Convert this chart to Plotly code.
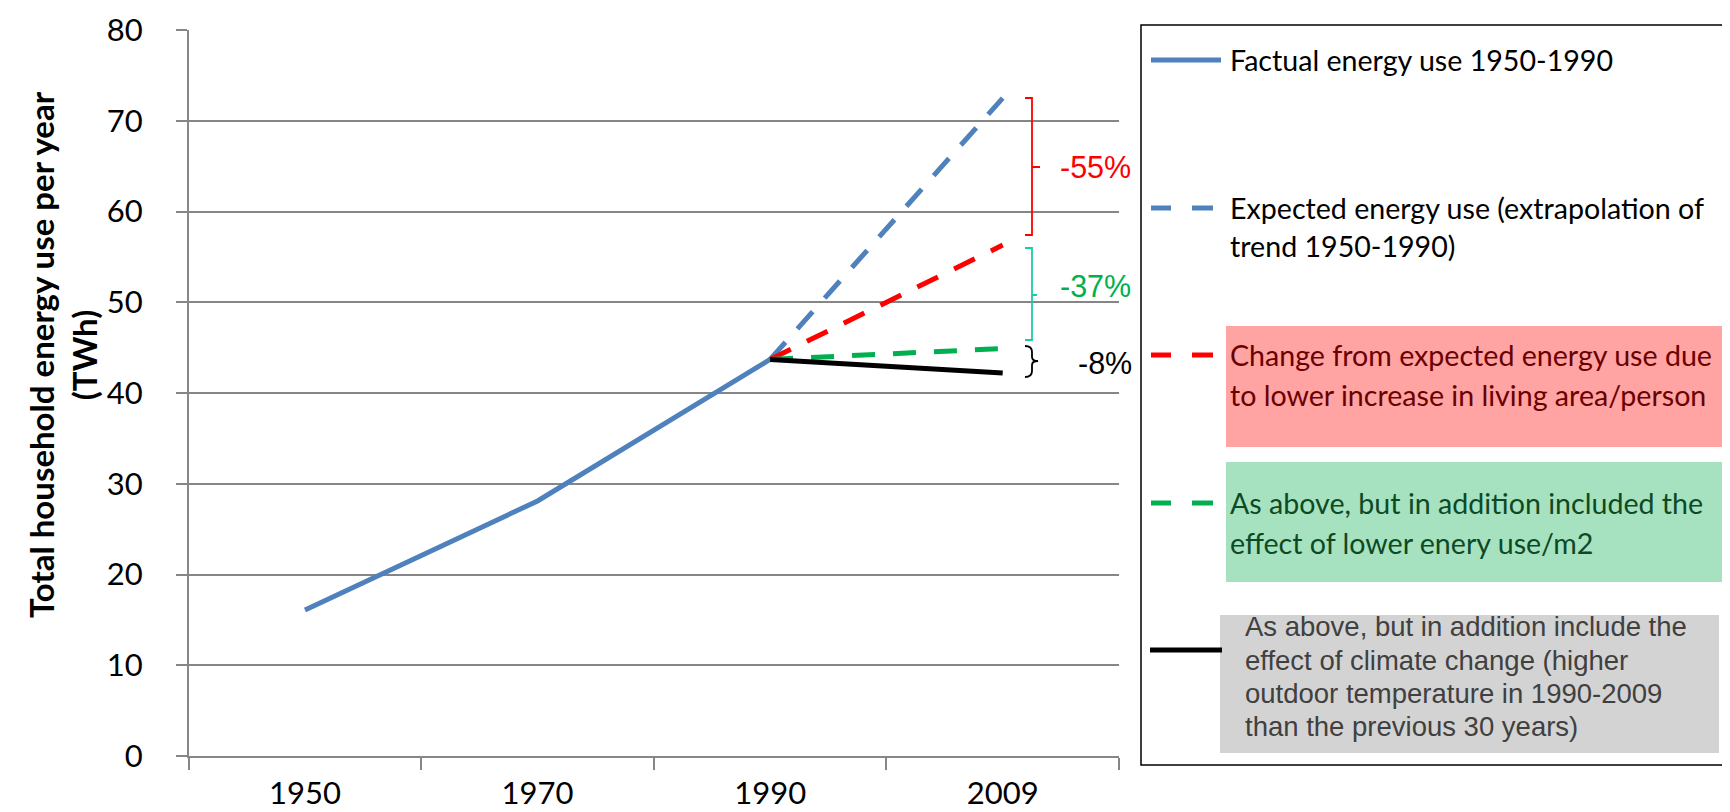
import plotly.graph_objects as go

# ---- data ----
years = ["1950", "1970", "1990", "2009"]
factual_x = ["1950", "1970", "1990"]
factual_y = [16.1, 28.1, 43.7]
proj_x = ["1990", "2009"]
expected_y = [43.7, 72.5]
living_area_y = [43.7, 56.3]
energy_m2_y = [43.7, 44.9]
climate_y = [43.7, 42.2]
y_ticks = [0, 10, 20, 30, 40, 50, 60, 70, 80]

legend_texts = [
    ["Factual energy use 1950-1990"],
    ["Expected energy use (extrapolation of", "trend 1950-1990)"],
    ["Change from expected energy use due", "to lower increase in living area/person"],
    ["As above, but in addition included the", "effect of lower enery use/m2"],
    ["As above, but in addition include the", "effect of climate change (higher",
     "outdoor temperature in 1990-2009", "than the previous 30 years)"],
]
pct_labels = ["-55%", "-37%", "-8%"]

BLUE = "#4F81BD"
RED = "#FF0000"
GREEN = "#00B050"
TEAL = "#1DCC9C"
GRID = "#868686"
W, H = 1730, 812
CAL = "Lato"
ARIAL = "Liberation Sans"
DASH = "23px,18px"
LW = 5


def px(x):
    return x / W


def py(y):
    return 1 - y / H


fig = go.Figure()
fig.add_trace(go.Scatter(x=factual_x, y=factual_y, mode="lines",
                         line=dict(color=BLUE, width=LW), showlegend=False))
fig.add_trace(go.Scatter(x=proj_x, y=expected_y, mode="lines",
                         line=dict(color=BLUE, width=LW, dash=DASH), showlegend=False))
fig.add_trace(go.Scatter(x=proj_x, y=living_area_y, mode="lines",
                         line=dict(color=RED, width=LW, dash=DASH), showlegend=False))
fig.add_trace(go.Scatter(x=proj_x, y=energy_m2_y, mode="lines",
                         line=dict(color=GREEN, width=LW, dash=DASH), showlegend=False))
fig.add_trace(go.Scatter(x=proj_x, y=climate_y, mode="lines",
                         line=dict(color="black", width=LW), showlegend=False))

shapes = []
annotations = []

# legend frame
shapes.append(dict(type="rect", xref="paper", yref="paper",
                   x0=px(1133), x1=px(1723), y0=py(17), y1=py(757),
                   line=dict(color="black", width=1.5), fillcolor="white", layer="below"))
# coloured boxes
for (x0, x1, y0, y1, col) in [(1218, 1717, 318, 439, "#FFA3A3"),
                              (1218, 1717, 454, 574, "#A6E1C0"),
                              (1212, 1711, 607, 745, "#D3D3D3")]:
    shapes.append(dict(type="rect", xref="paper", yref="paper",
                       x0=px(x0), x1=px(x1), y0=py(y0), y1=py(y1),
                       line=dict(width=0), fillcolor=col, layer="below"))


def seg(x0, x1, y, col, w=LW):
    shapes.append(dict(type="line", xref="paper", yref="paper",
                       x0=px(x0), x1=px(x1), y0=py(y), y1=py(y),
                       line=dict(color=col, width=w)))


# legend symbols
seg(1143, 1213, 52, BLUE)
seg(1143, 1163, 200, BLUE); seg(1184, 1205, 200, BLUE)
seg(1143, 1163, 347, RED); seg(1184, 1205, 347, RED)
seg(1143, 1163, 495, GREEN); seg(1184, 1205, 495, GREEN)
seg(1142, 1214, 642, "black")

# legend texts
leg_pos = [
    (1220, [52], "black", CAL, 28.6),
    (1220, [200, 238], "black", CAL, 28.6),
    (1220, [347, 387], "#6B0000", CAL, 28.6),
    (1220, [495, 535], "#0D4A24", CAL, 28.6),
    (1235, [618, 652, 685, 718], "#404040", ARIAL, 27.5),
]
for lines, (x0, ys, col, fam, size) in zip(legend_texts, leg_pos):
    for t, yy in zip(lines, ys):
        annotations.append(dict(text=t, xref="paper", yref="paper",
                                x=px(x0), y=py(yy), xanchor="left", yanchor="middle",
                                showarrow=False, font=dict(family=fam, size=size, color=col)))


def path_shape(d, col):
    shapes.append(dict(type="path", xref="paper", yref="paper", path=d,
                       line=dict(color=col, width=1.8)))


def P(x, y):
    return f"{px(x)},{py(y)}"


# brackets
path_shape(f"M{P(1017,90)} L{P(1024,90)} L{P(1024,227)} L{P(1017,227)} "
           f"M{P(1024,159)} L{P(1032,159)}", RED)
path_shape(f"M{P(1017,240)} L{P(1024,240)} L{P(1024,332)} L{P(1017,332)} "
           f"M{P(1024,287)} L{P(1029,287)}", TEAL)
path_shape(f"M{P(1017,338)} Q{P(1024,338)} {P(1024,344)} L{P(1024,349)} "
           f"Q{P(1024,353)} {P(1030,353)} Q{P(1024,353)} {P(1024,357)} "
           f"L{P(1024,363)} Q{P(1024,369)} {P(1017,369)}", "black")

for t, (xx, yy, col) in zip(pct_labels, [(1050, 159, RED), (1050, 278, GREEN), (1068, 355, "black")]):
    annotations.append(dict(text=t, xref="paper", yref="paper", x=px(xx), y=py(yy),
                            xanchor="left", yanchor="middle", showarrow=False,
                            font=dict(family=ARIAL, size=30.5, color=col)))

# y-axis title
annotations.append(dict(text="<b>Total household energy use per year<br>(TWh)</b>",
                        xref="paper", yref="paper", x=px(54), y=py(347),
                        xanchor="center", yanchor="middle", textangle=-90,
                        showarrow=False, font=dict(family=CAL, size=33, color="black")))

fig.update_layout(
    width=W, height=H,
    margin=dict(l=0, r=0, t=0, b=0, autoexpand=False),
    paper_bgcolor="white", plot_bgcolor="white",
    shapes=shapes, annotations=annotations,
    xaxis=dict(domain=[180.7 / W, 1111 / W], type="category", categoryorder="array",
               categoryarray=years, range=[-0.5, 3.5], showgrid=False,
               showline=True, linecolor=GRID, linewidth=1.5,
               ticks="outside", tickson="boundaries", ticklen=12, tickcolor=GRID, tickwidth=1.5,
               tickfont=dict(family=CAL, size=31, color="black"),
               ticklabelstandoff=9, automargin=False, fixedrange=True),
    yaxis=dict(domain=[1 - 748 / H, 1 - 22 / H], range=[0, 80], tickvals=y_ticks,
               showgrid=True, gridcolor=GRID, gridwidth=1.5, zeroline=False,
               showline=True, linecolor=GRID, linewidth=1.5,
               ticks="outside", ticklen=11, tickcolor=GRID, tickwidth=1.5,
               tickfont=dict(family=CAL, size=31, color="black"),
               ticklabelstandoff=27, automargin=False, fixedrange=True),
)

fig.write_html("out.html")
